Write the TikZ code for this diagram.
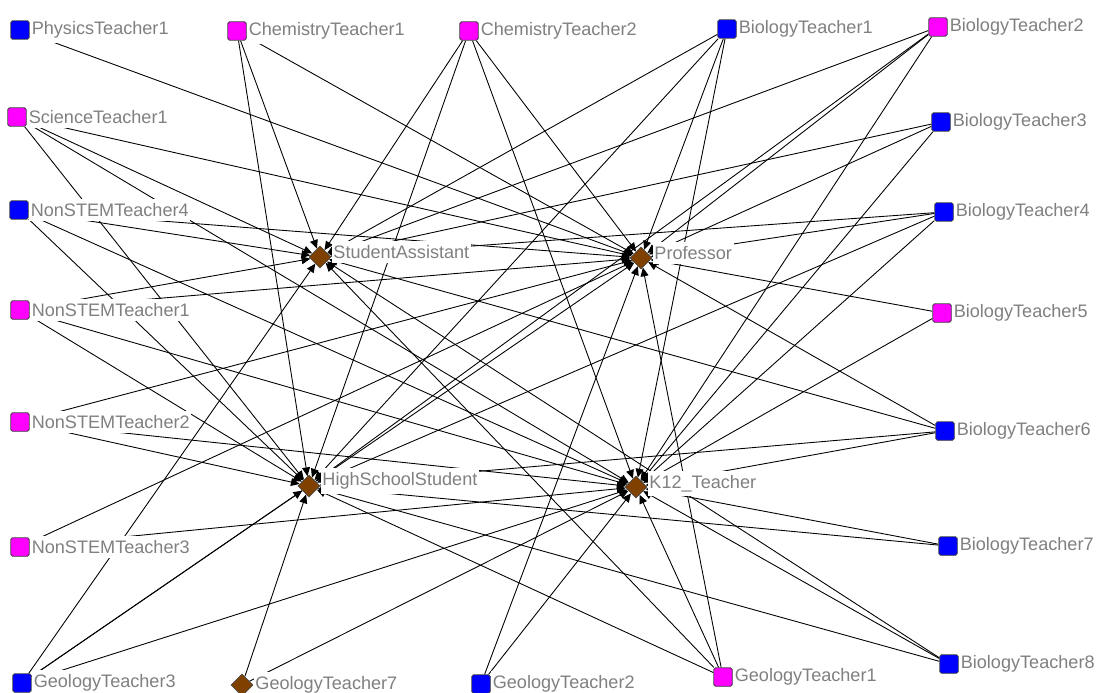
\documentclass[tikz,border=0pt]{standalone}
\usepackage{fontspec}
\setmainfont{Liberation Sans}
\usetikzlibrary{positioning,shapes.geometric,arrows.meta}
\definecolor{tblue}{RGB}{0,0,255}
\definecolor{tpink}{RGB}{255,0,255}
\definecolor{rolebrown}{RGB}{128,64,0}
\definecolor{lblgray}{RGB}{128,128,128}
\pgfdeclarelayer{edges}
\pgfsetlayers{edges,main}
\begin{document}
\begin{tikzpicture}[x=0.02cm,y=-0.02cm,
    teacher/.style={draw=black!75,line width=0.5pt,rounded corners=1pt,minimum size=0.37cm,inner sep=0pt},
    bluebox/.style={teacher,fill=tblue},
    pinkbox/.style={teacher,fill=tpink},
    role/.style={diamond,draw=black!70,line width=0.4pt,fill=rolebrown,minimum size=0.44cm,inner sep=0pt},
    lbl/.style={text=lblgray,fill=white,inner xsep=1pt,inner ysep=2.5pt,font=\fontsize{10.3}{12}\selectfont},
    tie/.style={draw=black,line width=0.5pt,-{Triangle[length=5pt,width=4.5pt]}}]
    \useasboundingbox (0,0) rectangle (1103,693);

    % the four roles
    \node[role] (sa) at (320,257) {};
    \node[role] (pr) at (641,258) {};
    \node[role] (hs) at (309,486) {};
    \node[role] (kt) at (636,487) {};
    \node[lbl,right=0pt of sa,yshift=3pt] (sat) {StudentAssistant};
    \node[lbl,right=0pt of pr,yshift=3pt] (prt) {Professor};
    \node[lbl,right=0pt of hs,yshift=3pt] (hst) {HighSchoolStudent};
    \node[lbl,right=0pt of kt,yshift=2pt] (ktt) {K12\_Teacher};

    % teachers
    \node[bluebox] (pt1) at (20,30) {};
    \node[pinkbox] (ct1) at (237,31) {};
    \node[pinkbox] (ct2) at (469,31) {};
    \node[bluebox] (bt1) at (727,29) {};
    \node[pinkbox] (bt2) at (938,27) {};
    \node[pinkbox] (st1) at (17,117) {};
    \node[bluebox] (bt3) at (941,122) {};
    \node[bluebox] (ns4) at (19,210) {};
    \node[bluebox] (bt4) at (944,212) {};
    \node[pinkbox] (ns1) at (20,310) {};
    \node[pinkbox] (bt5) at (942,313) {};
    \node[pinkbox] (ns2) at (20,422) {};
    \node[bluebox] (bt6) at (945,431) {};
    \node[pinkbox] (ns3) at (20,547) {};
    \node[bluebox] (bt7) at (948,546) {};
    \node[bluebox] (gt3) at (22,683) {};
    \node[role]    (gt7) at (242,685) {};
    \node[bluebox] (gt2) at (481,684) {};
    \node[pinkbox] (gt1) at (723,677) {};
    \node[bluebox] (bt8) at (949,664) {};

    \node[lbl,right=0pt of pt1] (pt1t) {PhysicsTeacher1};
    \node[lbl,right=0pt of ct1] (ct1t) {ChemistryTeacher1};
    \node[lbl,right=0pt of ct2] (ct2t) {ChemistryTeacher2};
    \node[lbl,right=0pt of bt1] (bt1t) {BiologyTeacher1};
    \node[lbl,right=0pt of bt2] (bt2t) {BiologyTeacher2};
    \node[lbl,right=0pt of st1] (st1t) {ScienceTeacher1};
    \node[lbl,right=0pt of bt3] (bt3t) {BiologyTeacher3};
    \node[lbl,right=0pt of ns4] (ns4t) {NonSTEMTeacher4};
    \node[lbl,right=0pt of bt4] (bt4t) {BiologyTeacher4};
    \node[lbl,right=0pt of ns1] (ns1t) {NonSTEMTeacher1};
    \node[lbl,right=0pt of bt5] (bt5t) {BiologyTeacher5};
    \node[lbl,right=0pt of ns2] (ns2t) {NonSTEMTeacher2};
    \node[lbl,right=0pt of bt6] (bt6t) {BiologyTeacher6};
    \node[lbl,right=0pt of ns3] (ns3t) {NonSTEMTeacher3};
    \node[lbl,right=0pt of bt7] (bt7t) {BiologyTeacher7};
    \node[lbl,right=0pt of gt3] (gt3t) {GeologyTeacher3};
    \node[lbl,right=0pt of gt7] (gt7t) {GeologyTeacher7};
    \node[lbl,right=0pt of gt2] (gt2t) {GeologyTeacher2};
    \node[lbl,right=0pt of gt1] (gt1t) {GeologyTeacher1};
    \node[lbl,right=0pt of bt8] (bt8t) {BiologyTeacher8};

    % ties, drawn under the nodes and labels
    \begin{pgfonlayer}{edges}
    \foreach \from/\to in {pt1/pr, ct1/sa, ct1/hs, ct1/pr,
        ct2/sa, ct2/hs, ct2/kt, ct2/pr, bt1/sa, bt1/hs, bt1/pr, bt1/kt,
        bt2/sa, bt2/pr, bt2/hs, bt2/kt, st1/sa, st1/pr, st1/hs, st1/kt,
        bt3/sa, bt3/pr, bt3/kt, ns4/sa, ns4/pr, ns4/hs, ns4/kt,
        bt4/sa, bt4/pr, bt4/hs, bt4/kt, ns1/sa, ns1/pr, ns1/hs, ns1/kt,
        bt5/pr, bt5/kt, ns2/pr, ns2/hs, ns2/kt,
        bt6/sa, bt6/pr, bt6/hs, bt6/kt, ns3/pr, ns3/kt, bt7/hs, bt7/kt,
        gt3/sa, gt3/pr, gt3/hs, gt3/kt, gt7/hs, gt7/kt, gt2/pr, gt2/kt,
        gt1/sa, gt1/pr, gt1/hs, gt1/kt, bt8/sa, bt8/hs, bt8/kt}
      \draw[tie] (\from) -- (\to);
    \end{pgfonlayer}
\end{tikzpicture}
\end{document}
